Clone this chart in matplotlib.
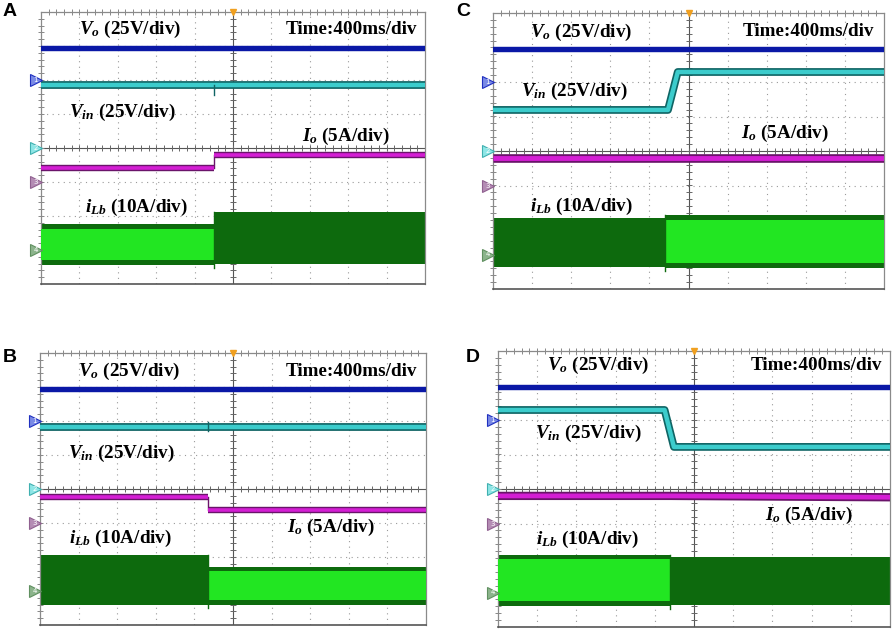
import numpy as np
import matplotlib
matplotlib.use('Agg')
import matplotlib.pyplot as plt

plt.rcParams['mathtext.fontset'] = 'custom'
plt.rcParams['mathtext.it'] = 'Liberation Serif:italic:bold'
plt.rcParams['mathtext.rm'] = 'Liberation Serif:bold'
plt.rcParams['mathtext.bf'] = 'Liberation Serif:bold'

# Time in ms (400 ms/div, 10 div), levels in screen divisions (centre line = 0)
panels = ['A', 'B', 'C', 'D']

vo_lvl = {'A': 2.95, 'B': 2.94, 'C': 2.96, 'D': 2.96}

vin_t = {'A': [0, 4000], 'B': [0, 4000],
         'C': [0, 1790, 1890, 4000], 'D': [0, 1700, 1795, 4000]}
vin_v = {'A': [1.85, 1.85], 'B': [1.82, 1.82],
         'C': [1.19, 1.19, 2.29, 2.29], 'D': [2.29, 2.29, 1.22, 1.22]}
vin_spike_t = {'A': 1800, 'B': 1745}
vin_spike_v = {'A': [1.85, 1.55], 'B': [1.98, 1.72]}

io_t = {'A': [0, 1800, 1800, 4000], 'B': [0, 1745, 1745, 4000],
        'C': [0, 1760, 4000], 'D': [0, 1760, 4000]}
io_v = {'A': [-0.6, -0.6, -0.2, -0.2], 'B': [-0.24, -0.24, -0.62, -0.62],
        'C': [-0.2, -0.2, -0.2], 'D': [-0.2, -0.2, -0.24]}

ilb_t = {'A': [0, 1800, 4000], 'B': [0, 1745, 4000],
         'C': [0, 1760, 4000], 'D': [0, 1755, 4000]}
ilb_top = {'A': [-2.24, -1.88], 'B': [-1.94, -2.29],
           'C': [-1.94, -1.86], 'D': [-1.91, -1.97]}
ilb_bot = {'A': [-3.44, -3.41], 'B': [-3.41, -3.41],
           'C': [-3.36, -3.39], 'D': [-3.39, -3.36]}
ilb_bright = {'A': [True, False], 'B': [False, True],
              'C': [False, True], 'D': [True, False]}

# label placement (x in div, y in div)
lab_pos = {
    'A': {'vo': (1.0, 3.5), 'time': (9.8, 3.5), 'vin': (0.73, 1.06), 'io': (6.8, 0.35), 'ilb': (1.15, -1.76)},
    'B': {'vo': (0.98, 3.47), 'time': (9.78, 3.47), 'vin': (0.73, 1.06), 'io': (6.4, -1.12), 'ilb': (0.75, -1.44)},
    'C': {'vo': (0.95, 3.45), 'time': (9.75, 3.45), 'vin': (0.72, 1.74), 'io': (6.34, 0.52), 'ilb': (0.95, -1.62)},
    'D': {'vo': (1.25, 3.59), 'time': (9.8, 3.59), 'vin': (0.94, 1.62), 'io': (6.8, -0.78), 'ilb': (0.97, -1.45)},
}
axes_rect = {
    'A': [41 / 892, 1 - 284 / 629, 384 / 892, 272 / 629],
    'C': [493 / 892, 1 - 289 / 629, 391 / 892, 276 / 629],
    'B': [40 / 892, 1 - 625 / 629, 386 / 892, 272 / 629],
    'D': [498 / 892, 1 - 627 / 629, 392 / 892, 276 / 629],
}
io_width = {'A': 1.0, 'B': 1.0, 'C': 1.35, 'D': 1.3}

BLUE = '#0a18a6'
CYAN = '#3ccccc'
TEAL = '#0f6464'
MAG = '#d41ed4'
PURP = '#6a146a'
GREEN = '#22e622'
DGREEN = '#0d6a0d'
GRIDC = '#9a9a9a'


def draw_trace(ax, t, v, edge, face, w_edge, w_face):
    # thick band for horizontal / ramp runs, thin line for vertical jumps
    runs, cur = [], [0]
    for k in range(len(t) - 1):
        if t[k] == t[k + 1]:
            ax.plot([t[k], t[k + 1]], [v[k], v[k + 1]], color=edge, lw=1.0, zorder=4)
            runs.append(cur)
            cur = [k + 1]
        else:
            cur.append(k + 1)
    runs.append(cur)
    for r in runs:
        if len(r) < 2:
            continue
        xs = [t[i] for i in r]
        ys = [v[i] for i in r]
        ax.plot(xs, ys, color=edge, lw=w_edge, zorder=4, solid_capstyle='butt', solid_joinstyle='round')
        ax.plot(xs, ys, color=face, lw=w_face, zorder=5, solid_capstyle='butt', solid_joinstyle='round')


fig = plt.figure(figsize=(8.92, 6.29), dpi=100)

for p in panels:
    ax = fig.add_axes(axes_rect[p])
    ax.set_xlim(0, 4000)
    ax.set_ylim(-4, 4)
    ax.set_xticks([])
    ax.set_yticks([])
    for s in ax.spines.values():
        s.set_color('#8a8a8a')
        s.set_linewidth(0.9)
    ax.spines['bottom'].set_color('#555555')
    ax.spines['bottom'].set_linewidth(1.2)

    # dotted graticule
    for i in range(1, 10):
        if i != 5:
            ax.axvline(i * 400, color=GRIDC, lw=0.8, ls=(0, (1, 4)), zorder=0)
    for j in range(-3, 4):
        if j != 0:
            ax.axhline(j, color=GRIDC, lw=0.8, ls=(0, (1, 4)), zorder=0)
    ax.axvline(2000, color='#555555', lw=0.8, zorder=0)
    ax.axhline(0, color='#555555', lw=0.8, zorder=0)
    mx = np.arange(80, 4000, 80)
    my = np.arange(-3.8, 4.0, 0.2)
    ax.plot(mx, np.zeros_like(mx), ls='none', marker='|', ms=5, mew=0.7, color='#666666', zorder=0)
    ax.plot(np.full_like(my, 2000), my, ls='none', marker='_', ms=5, mew=0.7, color='#666666', zorder=0)
    ax.plot(mx, np.full_like(mx, 4.0, dtype=float), ls='none', marker='|', ms=4, mew=0.7, color='#888888', zorder=0, clip_on=False)
    ax.plot(np.full_like(my, 0.0), my, ls='none', marker='_', ms=4, mew=0.7, color='#888888', zorder=0, clip_on=False)

    # iLb band
    tt = ilb_t[p]
    for k in range(len(tt) - 1):
        xs = [tt[k], tt[k + 1]]
        top, bot = ilb_top[p][k], ilb_bot[p][k]
        ax.fill_between(xs, [bot, bot], [top, top], color=DGREEN, lw=0, zorder=2)
        if ilb_bright[p][k]:
            ax.fill_between(xs, [bot + 0.15, bot + 0.15], [top - 0.13, top - 0.13],
                            color=GREEN, lw=0, zorder=3)
    for k in range(1, len(tt) - 1):
        ax.plot([tt[k]] * 2, [min(ilb_bot[p][k - 1], ilb_bot[p][k]) - 0.08,
                              max(ilb_top[p][k - 1], ilb_top[p][k])],
                color=DGREEN, lw=1.0, zorder=3)

    # Io
    sc = io_width[p]
    draw_trace(ax, io_t[p], io_v[p], PURP, MAG, 4.6 * sc, 2.6 * sc)

    # Vin
    draw_trace(ax, vin_t[p], vin_v[p], TEAL, CYAN, 5.6, 3.2)
    if p in vin_spike_t:
        ax.plot([vin_spike_t[p]] * 2, vin_spike_v[p], color=TEAL, lw=1.0, zorder=6)

    # Vo
    ax.plot([0, 4000], [vo_lvl[p]] * 2, color=BLUE, lw=3.9, zorder=5)

    # trigger mark and channel markers
    ax.plot([2000], [4.0], marker='v', ms=5, color='#f0a020', clip_on=False, zorder=7)
    tr = ax.get_yaxis_transform()
    for lvl, fc, ec, lab in [(2, '#7a8ae6', '#2030c0', '1'), (0, '#8ee6e6', '#40b0b0', '2'),
                             (-1, '#b48cb4', '#906090', '3'), (-3, '#8cb48c', '#609060', '4')]:
        ax.plot([-0.012], [lvl], transform=tr, marker='>', ms=8, mfc=fc, mec=ec, mew=0.8,
                clip_on=False, zorder=7)
        ax.text(-0.014, lvl, lab, transform=tr, fontsize=5, color='white', ha='center', va='center',
                clip_on=False, zorder=8)

    lp = lab_pos[p]
    kw = dict(fontsize=13.8, family='Liberation Serif', weight='bold', va='center', zorder=9)
    ax.text(lp['vo'][0] * 400, lp['vo'][1], r'$V_o$ (25V/div)', ha='left', **kw)
    ax.text(lp['time'][0] * 400, lp['time'][1], 'Time:400ms/div', ha='right', **kw)
    ax.text(lp['vin'][0] * 400, lp['vin'][1], r'$V_{in}$ (25V/div)', ha='left', **kw)
    ax.text(lp['io'][0] * 400, lp['io'][1], r'$I_o$ (5A/div)', ha='left', **kw)
    ax.text(lp['ilb'][0] * 400, lp['ilb'][1], r'$i_{Lb}$ (10A/div)', ha='left', **kw)

fig.text(10 / 892, 1 - 12 / 629, 'A', fontsize=14, weight='bold', family='Liberation Sans', ha='center', va='center')
fig.text(463 / 892, 1 - 12 / 629, 'C', fontsize=14, weight='bold', family='Liberation Sans', ha='center', va='center')
fig.text(10 / 892, 1 - 357 / 629, 'B', fontsize=14, weight='bold', family='Liberation Sans', ha='center', va='center')
fig.text(473 / 892, 1 - 357 / 629, 'D', fontsize=14, weight='bold', family='Liberation Sans', ha='center', va='center')

fig.savefig('out.png', dpi=100)
